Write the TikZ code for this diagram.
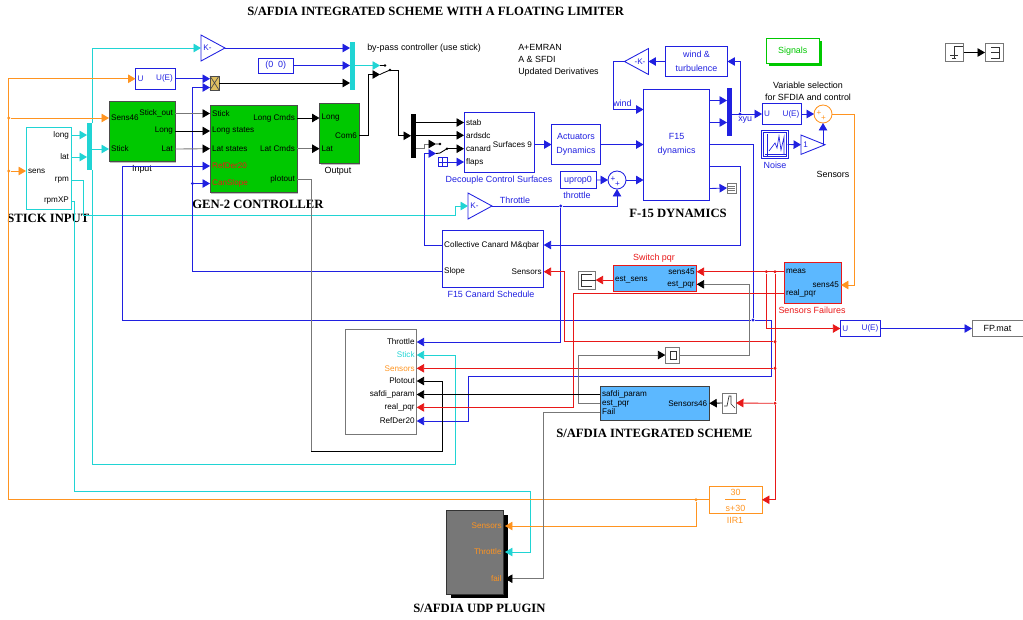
\documentclass[tikz,border=0pt]{standalone}
\usepackage{fontspec}
\setmainfont{Liberation Sans}
\newfontfamily\headfont{Liberation Serif}
\usetikzlibrary{arrows.meta,calc,positioning,shadows,shapes.geometric}
\definecolor{SimBlue}{HTML}{2020E0}
\definecolor{SimCyan}{HTML}{20D4D4}
\definecolor{SimOrange}{HTML}{FF9420}
\definecolor{SimRed}{HTML}{E81818}
\definecolor{SimGreen}{HTML}{00C800}
\definecolor{SimSky}{HTML}{5CB8FF}
\definecolor{SimGold}{HTML}{E0C060}
\definecolor{SimGray}{HTML}{777777}
\tikzset{
  wh/.style 2 args={minimum width=#1*.75pt,minimum height=#2*.75pt},
  tiny8/.style={font=\fontsize{6.1}{7.2}\selectfont},
  wide8/.style={font=\fontsize{6.7}{7.6}\selectfont},
  stripe/.style={line width=.65pt},
  wire/.style={line width=.65pt,-{Triangle[length=5.6pt,width=6.4pt]}},
  graywire/.style={line width=.65pt,SimGray,-{Triangle[length=5.6pt,width=6.4pt,black]}},
  cell/.style={draw,anchor=north west,inner sep=0pt,outer sep=0pt,line width=.7pt,wide8,align=center},
  bluecell/.style={cell,draw=SimBlue,text=SimBlue},
  greencell/.style={cell,draw=black!70,fill=SimGreen,drop shadow={shadow xshift=1pt,shadow yshift=-1pt,fill=black!25,opacity=1}},
  skycell/.style={cell,fill=SimSky},
  graycell/.style={cell,draw=SimGray},
  busbar/.style={anchor=north west,inner sep=0pt,outer sep=0pt},
  inport/.style={tiny8,anchor=west,inner xsep=1.6pt,inner ysep=0pt,outer sep=0pt},
  outport/.style={tiny8,anchor=east,inner xsep=1.6pt,inner ysep=0pt,outer sep=0pt},
  plainlabel/.style={wide8,inner sep=0pt},
  headlabel/.style={font=\headfont\bfseries\fontsize{9.5}{11}\selectfont,inner sep=0pt},
  gain/.style={draw=SimBlue,text=SimBlue,tiny8,isosceles triangle,isosceles triangle stretches,inner sep=0pt,outer sep=0pt,line width=.65pt},
  junction/.style={circle,fill,inner sep=0pt,minimum size=2.4pt},
  sumcell/.style={circle,draw,inner sep=0pt,outer sep=0pt,minimum size=13.5pt,line width=.65pt},
  signmark/.style={tiny8,inner sep=0pt}
}
\begin{document}
\begin{tikzpicture}[x=.75pt,y=-.75pt]
  \useasboundingbox (0,0) rectangle (1023,619);

  \node[headlabel,anchor=west] (tMain) at (247,11) {S/AFDIA INTEGRATED SCHEME WITH A FLOATING LIMITER};
  \node[headlabel,anchor=west] (tStick) at (7,218) {STICK INPUT};
  \node[headlabel,anchor=west] (tGen) at (192,204) {GEN-2 CONTROLLER};
  \node[headlabel,anchor=west] (tF15) at (629,213) {F-15 DYNAMICS};
  \node[headlabel,anchor=west] (tScheme) at (556,433) {S/AFDIA INTEGRATED SCHEME};
  \node[headlabel,anchor=west] (tPlugin) at (413,608) {S/AFDIA UDP PLUGIN};

  \node[plainlabel,anchor=west] (tBypass) at (367,48) {by-pass controller (use stick)};
  \node[plainlabel,anchor=north west,align=left] (tEmran) at (518,44) {A+EMRAN\\[1.6pt]A \& SFDI\\[1.6pt]Updated Derivatives};
  \node[plainlabel,align=center] (tVar) at (808,91) {Variable selection\\[1.6pt]for SFDIA and control};
  \node[plainlabel] (tSensors) at (833,174.5) {Sensors};

  \node[graycell,draw=SimCyan,wh={45}{81.5}] (stickIn) at (26,127.5) {};
  \node[outport] (sLong) at (71,135) {long};
  \node[outport] (sLat) at (71,157) {lat};
  \node[inport] (sSens) at (26,171) {sens};
  \node[outport] (sRpm) at (71,180) {rpm};
  \node[outport] (sRpmXP) at (71,201) {rpmXP};
  \node[busbar,fill=SimCyan,wh={5}{47}] (busIn) at (87,123) {};

  \node[greencell,wh={66}{60}] (inBlk) at (109,101.5) {};
  \node[inport] (iSens) at (109,118) {Sens46};
  \node[inport] (iStick) at (109,149) {Stick};
  \node[outport] (iOut) at (175,113.5) {Stick\_out};
  \node[outport] (iLong) at (175,131) {Long};
  \node[outport] (iLat) at (175,149) {Lat};
  \node[plainlabel] (tInput) at (142,169) {Input};

  \node[bluecell,wh={39.5}{20.5}] (ueTop) at (135.5,68.5) {};
  \node[inport,SimBlue] (ueTopU) at (ueTop.west) {U};
  \node[outport,SimBlue] (ueTopE) at (ueTop.east) {U(E)};
  \node[cell,draw=black!70,fill=SimGold,wh={9}{14}] (prod) at (210,76) {};
  \draw[black!70,line width=.5pt] (prod.north west) -- (prod.south east) (prod.north east) -- (prod.south west);
  \coordinate (prodLow) at (210,87.5);
  \node[gain,minimum width=19.5pt,minimum height=18pt,anchor=west] (gainTop) at (201,48) {};
  \node[tiny8,SimBlue,inner sep=0pt] (gainTopK) at (207.5,48) {K-};
  \node[bluecell,wh={34.5}{15}] (constZero) at (258.5,58) {(0\ \ 0)};
  \node[busbar,fill=SimCyan,wh={5}{48}] (busTop) at (350,41.5) {};

  \node[greencell,wh={87}{87}] (genBlk) at (210,105.5) {};
  \node[inport] (gStick) at (210,113.5) {Stick};
  \node[inport] (gLong) at (210,131) {Long states};
  \node[inport] (gLat) at (210,148.7) {Lat states};
  \node[inport,text=SimRed] (gRef) at (210,166) {RefDer20};
  \node[inport,text=SimRed] (gCan) at (210,183.5) {CanSlope};
  \node[outport] (gLongC) at (297,118) {Long Cmds};
  \node[outport] (gLatC) at (297,148.7) {Lat Cmds};
  \node[outport] (gPlot) at (297,179.5) {plotout};

  \node[greencell,wh={39.5}{60}] (outBlk) at (319.5,103.5) {};
  \node[inport] (oLong) at (319.5,118) {Long};
  \node[inport] (oLat) at (319.5,148.7) {Lat};
  \node[outport] (oCom) at (359,135.5) {Com6};
  \node[plainlabel] (tOutput) at (338,171) {Output};

  \coordinate (swTopA) at (380,65.5);
  \coordinate (swTopB) at (380,74.5);
  \coordinate (swTopOut) at (390,70);
  \node[busbar,fill=black,wh={5}{44.5}] (busSurf) at (411,113.5) {};
  \coordinate (swCanA) at (436,144);
  \coordinate (swCanB) at (436,153.5);
  \coordinate (swCanOut) at (447,148.7);

  \node[bluecell,wh={70}{60}] (decBlk) at (464,112) {};
  \node[inport] (dStab) at (464,122.5) {stab};
  \node[inport] (dArd) at (464,135.3) {ardsdc};
  \node[inport] (dCan) at (464,148.7) {canard};
  \node[inport] (dFlap) at (464,162) {flaps};
  \node[outport] (dSurf) at (534,144.5) {Surfaces 9};
  \node[plainlabel,SimBlue] (tDec) at (499,180) {Decouple Control Surfaces};
  \node[bluecell,wh={9}{9}] (flapConst) at (438,157.5) {};
  \draw[SimBlue,line width=.4pt] (flapConst.north) -- (flapConst.south) (flapConst.west) -- (flapConst.east);

  \node[bluecell,wh={49}{40.5}] (actBlk) at (551.5,124.3) {Actuators\\[3pt]Dynamics};
  \node[bluecell,wh={36}{16.5}] (uprop) at (560,171.7) {uprop0};
  \node[plainlabel,SimBlue] (tThrottle) at (577,195) {throttle};
  \node[sumcell,draw=SimBlue] (sumThr) at (617,180) {};
  \node[signmark,SimBlue] (sumThrA) at (613,179) {+};
  \node[signmark,SimBlue] (sumThrB) at (617.6,184) {+};

  \node[gain,minimum width=19.5pt,minimum height=18pt,anchor=west] (gainThr) at (468,206) {};
  \node[tiny8,SimBlue,inner sep=0pt] (gainThrK) at (474.5,206) {K-};
  \node[plainlabel,SimBlue] (tThr) at (515,200) {Throttle};

  \node[bluecell,wh={66.2}{110.5}] (f15) at (643.5,89.5) {F15\\[3pt]dynamics};
  \coordinate (f15Wind) at (643.5,109.5);
  \coordinate (f15Thr) at (643.5,180);
  \coordinate (f15A) at (709.7,100.5);
  \coordinate (f15B) at (709.7,122.5);
  \coordinate (f15C) at (709.7,144.5);
  \coordinate (f15D) at (709.7,166.5);
  \coordinate (f15E) at (709.7,188.5);
  \node[plainlabel,SimBlue,anchor=west] (tWind) at (613,103.6) {wind};
  \node[busbar,fill=SimBlue,wh={5}{48.5}] (busOut) at (727,87.5) {};
  \node[plainlabel,SimBlue,anchor=west] (tXyu) at (738,120) {xyu};
  \node[graycell,wh={9}{10}] (scopeF) at (727,183) {};
  \draw[SimGray,line width=.5pt] (728,186) -- (735,186) (728,188) -- (735,188) (728,190) -- (735,190);

  \node[bluecell,wh={62}{30}] (windBlk) at (665.5,46.5) {wind \&\\[3pt]turbulence};
  \node[gain,shape border rotate=180,minimum width=19.5pt,minimum height=18pt,anchor=east] (gainWind) at (648.5,61.5) {};
  \node[tiny8,SimBlue,inner sep=0pt] (gainWindK) at (640,61.5) {-K-};
  \node[cell,draw=SimGreen,text=SimGreen,wh={53.5}{24.5},drop shadow={shadow xshift=2pt,shadow yshift=-2pt,fill=SimGreen,opacity=1},fill=white] (signals) at (766,38.5) {Signals};

  \node[graycell,wh={18}{18}] (gotoTop) at (945.5,43.5) {};
  \node[graycell,wh={18}{18}] (fromTop) at (985,43.5) {};
  \draw[black!80,line width=.6pt] (963,46.5) -- (954,46.5) -- (954,58) (950,55) -- (958,55) (952,58) -- (956,58);
  \draw[black!80,line width=.6pt] (991,47) -- (999,47) -- (999,58) -- (991,58) (991,52.5) -- (999,52.5);

  \node[bluecell,wh={39.5}{21}] (ueSel) at (762,103.5) {};
  \node[inport,SimBlue] (ueSelU) at (ueSel.west) {U};
  \node[outport,SimBlue] (ueSelE) at (ueSel.east) {U(E)};
  \node[sumcell,draw=SimOrange] (sumSens) at (823,114) {};
  \node[signmark,SimOrange] (sumSensA) at (819,113.5) {+};
  \node[signmark,SimOrange] (sumSensB) at (823.5,118) {+};
  \node[bluecell,double,double distance=.7pt,wh={25}{26}] (noise) at (762.5,131.5) {};
  \draw[SimBlue,line width=.5pt] (767,134) -- (767,156) (765,154.5) -- (786,154.5);
  \draw[SimBlue,line width=.5pt] (769,151) -- (772,147) -- (775,143) -- (777,148) -- (779,136) -- (781,150) -- (784,137) -- (784,154);
  \node[plainlabel,SimBlue] (tNoise) at (775,165) {Noise};
  \node[gain,minimum width=14.5pt,minimum height=18pt,anchor=west] (gainOne) at (801,144.7) {};
  \node[tiny8,SimBlue,inner sep=0pt] (gainOneK) at (805.5,144.7) {1};

  \node[skycell,draw=SimRed,wh={57}{41}] (senFail) at (784,262) {};
  \node[inport] (fMeas) at (784,271.7) {meas};
  \node[inport] (fReal) at (784,293.5) {real\_pqr};
  \node[outport] (fSens) at (841,285) {sens45};
  \node[plainlabel,SimRed] (tSenFail) at (812,310) {Sensors Failures};

  \node[skycell,draw=SimRed,wh={83.7}{26}] (swPqr) at (613,265) {};
  \node[inport] (pEst) at (613,280) {est\_sens};
  \node[outport] (pSens) at (696.7,271.7) {sens45};
  \node[outport] (pPqr) at (696.7,284.3) {est\_pqr};
  \node[plainlabel,SimRed] (tSwPqr) at (654,258) {Switch pqr};
  \node[graycell,wh={17.7}{18}] (gotoSens) at (578,271) {};
  \draw[black!80,line width=.6pt] (592,274) -- (581,274) -- (581,286) -- (592,286) (581,280) -- (gotoSens.east);

  \node[bluecell,wh={101.7}{56.5}] (canBlk) at (442,230.5) {};
  \node[inport] (cColl) at (442,245) {Collective Canard M\&qbar};
  \node[inport] (cSlope) at (442,271.7) {Slope};
  \node[outport] (cSens) at (543.7,271.7) {Sensors};
  \node[plainlabel,SimBlue] (tCan) at (491,294) {F15 Canard Schedule};

  \node[graycell,wh={71}{105}] (scopeBig) at (345.7,329) {};
  \node[outport] (bThrottle) at (416.7,342) {Throttle};
  \node[outport,text=SimCyan] (bStick) at (416.7,355) {Stick};
  \node[outport,text=SimOrange] (bSens) at (416.7,368.3) {Sensors};
  \node[outport] (bPlot) at (416.7,381) {Plotout};
  \node[outport] (bParam) at (416.7,394.5) {safdi\_param};
  \node[outport] (bReal) at (416.7,407.4) {real\_pqr};
  \node[outport] (bRef) at (416.7,421) {RefDer20};

  \node[skycell,draw=black!75,wh={109.3}{33.5}] (schemeBlk) at (600,386.5) {};
  \node[inport] (xParam) at (600,394.5) {safdi\_param};
  \node[inport] (xPqr) at (600,403.3) {est\_pqr};
  \node[inport] (xFail) at (600,412) {Fail};
  \node[outport] (xSens) at (709.3,403.3) {Sensors46};
  \node[graycell,wh={14}{20}] (stepBlk) at (722,393) {};
  \draw[black!80,line width=.5pt] (724,406) -- (727,406) -- (729,396) -- (731,396) -- (731,404) -- (735,408);
  \node[graycell,wh={14}{16}] (rateBlk) at (665.3,347) {};
  \draw[black!80,line width=.5pt] (670,351) -- (676,351) -- (676,359) -- (670,359) (670,352) -- (670,359);

  \node[graycell,draw=SimGray,wh={51}{16}] (fpMat) at (972,320.5) {FP.mat};
  \node[bluecell,wh={40.2}{16}] (ueFp) at (840.3,320.5) {};
  \node[inport,SimBlue] (ueFpU) at (ueFp.west) {U};
  \node[outport,SimBlue] (ueFpE) at (ueFp.east) {U(E)};

  \node[cell,draw=SimOrange,text=SimOrange,wh={52.7}{26.5}] (iir) at (709.3,486.5) {};
  \node[plainlabel,SimOrange] (iirNum) at (735.5,492) {30};
  \node[plainlabel,SimOrange] (iirDen) at (735.5,508) {s+30};
  \draw[SimOrange,line width=.5pt] (725,499.7) -- (746,499.7);
  \node[plainlabel,SimOrange] (tIir) at (735,520) {IIR1};

  \node[cell,draw=black!80,fill=SimGray,wh={57.2}{83.5},drop shadow={shadow xshift=3.2pt,shadow yshift=-3.2pt,fill=black,opacity=1}] (plugin) at (446.5,510.5) {};
  \node[outport,text=SimOrange] (uSens) at (503.7,526) {Sensors};
  \node[outport,text=SimOrange] (uThr) at (503.7,552) {Throttle};
  \node[outport,text=SimOrange] (uFail) at (503.7,578.7) {fail};
  \coordinate (uSensIn) at (505,526);
  \coordinate (uThrIn) at (505,552);
  \coordinate (uFailIn) at (505,578.7);

  \node[junction,SimOrange] (jOrangeA) at (8.7,118) {};
  \node[junction,SimOrange] (jOrangeB) at (8.7,171) {};
  \node[junction,SimOrange] (jOrangeC) at (696,499.7) {};
  \node[junction,SimBlue] (jCan) at (192.5,183.5) {};
  \node[junction,SimBlue] (jThr) at (560.7,206) {};
  \node[junction,SimBlue] (jRef) at (753,320) {};
  \node[junction,SimBlue] (jXyu) at (740,114) {};
  \node[junction,SimRed] (jRedA) at (766.3,271.7) {};
  \node[junction,SimRed] (jRedB) at (775,271.7) {};
  \node[junction,SimRed] (jRedC) at (775,341.7) {};
  \node[junction,SimRed] (jRedD) at (775,368.3) {};
  \node[junction,SimRed] (jRedE) at (775,403.3) {};

  \draw[wire,SimCyan] (sLong.east) -- (sLong.east -| busIn.west);
  \draw[wire,SimCyan] (sLat.east) -- (sLat.east -| busIn.west);
  \draw[wire,SimCyan] (busIn.east |- iStick) -- (iStick.west);
  \draw[wire,SimCyan] (busIn.north east) |- (gainTop.west);
  \draw[wire,SimCyan] (busIn.south east) -- (92,464) -- (455.7,464) -- (455.7,355) -- (bStick.east);
  \draw[wire,SimCyan] (sRpm.east) -- (83,180) -- (83,215) -- (455.7,215) -- (455.7,206) -- (gainThr.west);
  \draw[wire,SimCyan] (sRpmXP.east) -- (74.5,201) -- (74.5,491) -- (530,491) -- (530,552) -- (uThrIn);

  \draw[wire,SimOrange] (iir.west) -- (8.7,499.75) -- (8.7,78.75) -- (ueTop.west);
  \draw[wire,SimOrange] (jOrangeA) -- (iSens.west);
  \draw[wire,SimOrange] (jOrangeB) -- (sSens.west);
  \draw[wire,SimOrange] (jOrangeC) |- (uSensIn);
  \draw[wire,SimOrange] (sumSens.east) -- (854.5,114) -- (854.5,285) -- (fSens.east);

  \draw[wire,SimBlue] (gainTop.apex) -- (gainTop.apex -| busTop.west);
  \draw[wire,SimBlue] (constZero.east) -- (constZero.east -| busTop.west);
  \draw[wire,SimBlue] (ueTop.east) -- (ueTop.east -| prod.west);
  \draw[wire,black] (prod.east) -- (prod.east -| busTop.west);
  \draw[wire,SimBlue] (cSlope.west) -- (192.5,271.7) -- (192.5,87.5) -- (prodLow);
  \draw[wire,SimBlue] (jCan) -- (gCan.west);
  \draw[wire,SimBlue] (jRef) -- (771,320) -- (771,376.7) -- (468,376.7) -- (468,421) -- (bRef.east);
  \draw[wire,SimBlue] (jRef) -- (122.5,320) -- (122.5,166) -- (gRef.west);

  \draw[graywire] (iOut.east) -- (gStick.west);
  \draw[wire,black] (iLong.east) -- (gLong.west);
  \draw[graywire] (iLat.east) -- (gLat.west);
  \draw[wire,black] (gLongC.east) -- (oLong.west);
  \draw[graywire] (gLatC.east) -- (oLat.west);
  \draw[stripe,SimGray] (gPlot.east) -- (311,179.5) -- (311,451);
  \draw[wire,black] (311,451) -- (442.7,451) -- (442.7,381) -- (bPlot.east);

  \draw[wire,SimCyan] (busTop.east |- swTopA) -- (swTopA);
  \draw[wire,black] (oCom.east) -- (368,135.5) -- (368,74.5) -- (swTopB);
  \draw[stripe,black] (swTopA) -- ++(5,0) (swTopB) -- (383,73) -- (swTopOut);
  \fill[black] (385,65.5) circle (1pt) (swTopOut) circle (1pt);
  \draw[wire,black] (swTopOut) -- (398,70) -- (398,135.75) -- (busSurf.west);

  \draw[wire,black] (busSurf.east |- dStab) -- (dStab.west);
  \draw[wire,black] (busSurf.east |- dArd) -- (dArd.west);
  \draw[graywire] (busSurf.east |- dCan) -- (424,148.7) -- (424,144) -- (swCanA);
  \draw[wire,SimBlue] (cColl.west) -- (424.7,245) -- (424.7,153.5) -- (swCanB);
  \draw[stripe,black] (swCanA) -- ++(4,0) (swCanB) -- (440,153) -- (swCanOut);
  \fill[black] (440,144) circle (1pt) (swCanOut) circle (1pt);
  \draw[wire,black] (swCanOut) -- (dCan.west);
  \draw[wire,SimBlue] (flapConst.east) -- (dFlap.west);

  \draw[wire,SimBlue] (dSurf.east) -- (actBlk.west);
  \draw[wire,SimBlue] (actBlk.east) -- (actBlk.east -| f15.west);
  \draw[wire,SimBlue] (uprop.east) -- (sumThr.west);
  \draw[wire,SimBlue] (sumThr.east) -- (f15Thr);
  \draw[stripe,SimBlue] (gainThr.apex) -- (jThr);
  \draw[wire,SimBlue] (jThr) -- (617,206) -- (sumThr.south);
  \draw[wire,SimBlue] (jThr) -- (560.7,342) -- (bThrottle.east);

  \draw[wire,SimBlue] (f15A) -- (f15A -| busOut.west);
  \draw[wire,SimBlue] (f15B) -- (f15B -| busOut.west);
  \draw[stripe,SimBlue] (f15C) -- (753,144.5) -- (jRef);
  \draw[wire,SimBlue] (f15D) -- (740,166.5) -- (740,245) -- (cColl.west -| canBlk.east);
  \draw[wire,SimBlue] (f15E) -- (scopeF.west);
  \draw[wire,SimBlue] (busOut.east |- ueSel) -- (ueSel.west);
  \draw[wire,SimBlue] (jXyu) -- (740,61.5) -- (windBlk.east);
  \draw[wire,SimBlue] (windBlk.west) -- (gainWind.east);
  \draw[wire,SimBlue] (gainWind.apex) -- (613,61.5) -- (613,109.5) -- (f15Wind);
  \draw[wire,SimBlue] (ueSel.east) -- (sumSens.west);
  \draw[wire,SimBlue] (noise.east) -- (gainOne.west);
  \draw[wire,SimBlue] (gainOne.apex) -- (823,144.7) -- (sumSens.south);
  \draw[wire,black] (gotoTop.east) -- (fromTop.west);
  \draw[wire,SimBlue] (ueFp.east) -- (fpMat.west);

  \draw[wire,SimRed] (fMeas.west) -- (pSens.east);
  \draw[wire,SimRed] (jRedA) -- (766.3,328.5) -- (ueFp.west);
  \draw[stripe,SimRed] (jRedB) -- (jRedE);
  \draw[wire,SimRed] (jRedE) -- (775,499.75) -- (iir.east);
  \draw[wire,SimRed] (jRedC) -- (564.7,341.7) -- (564.7,271.7) -- (cSens.east);
  \draw[wire,SimRed] (jRedD) -- (bSens.east);
  \draw[wire,SimRed] (jRedE) -- (stepBlk.east);
  \draw[wire,SimRed] (fReal.west) -- (573.7,293.5) -- (573.7,407.4) -- (bReal.east);
  \draw[wire,SimRed] (pEst.west) -- (gotoSens.east);

  \draw[graywire] (rateBlk.east) -- (749,355) -- (749,284.3) -- (pPqr.east);
  \draw[graywire] (xPqr.west) -- (578.3,403.3) -- (578.3,355) -- (rateBlk.west);
  \draw[wire,black] (stepBlk.west) -- (xSens.east);
  \draw[wire,black] (xParam.west) -- (bParam.east);
  \draw[graywire] (xFail.west) -- (543,412) -- (543,578.7) -- (uFailIn);
\end{tikzpicture}
\end{document}
